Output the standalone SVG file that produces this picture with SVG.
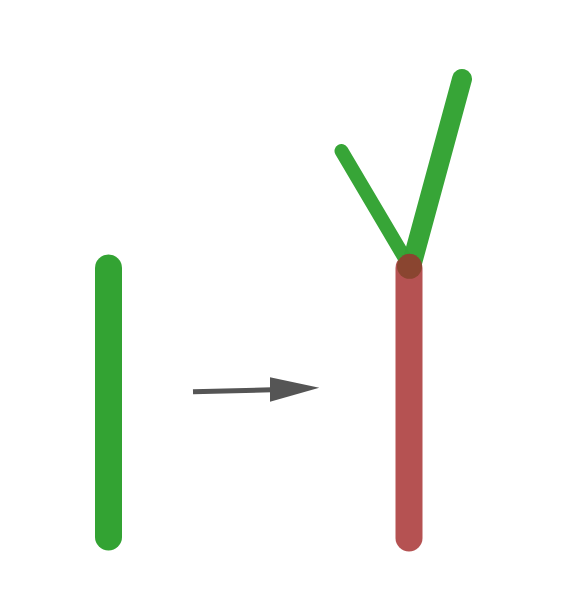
<svg xmlns="http://www.w3.org/2000/svg" width="568" height="612" viewBox="0 0 568 612">
<style>
.g{stroke:#33a333;stroke-linecap:round;fill:none}
</style>
<rect width="568" height="612" fill="#fff"/>
<g id="stem-before"><line class="g" x1="108.5" y1="268" x2="108.5" y2="537" stroke-width="27"/></g>
<g id="stem-after"><line x1="409" y1="268" x2="409" y2="538" stroke="#b55252" stroke-width="27" stroke-linecap="round"/></g>
<g id="branch-left"><line class="g" x1="406.5" y1="261" x2="341.5" y2="151" stroke-width="14" opacity="0.98"/></g>
<g id="branch-right"><line class="g" x1="412" y1="263" x2="462" y2="79" stroke-width="20" opacity="0.98"/></g>
<g id="junction"><circle cx="409.5" cy="266.3" r="12.5" fill="#8a4530"/></g>
<g id="connectors">
<line x1="193" y1="391.8" x2="272" y2="389.8" stroke="#555" stroke-width="5"/>
<polygon points="270,377.3 319.3,387.7 270,401.7" fill="#555"/>
</g>
</svg>
